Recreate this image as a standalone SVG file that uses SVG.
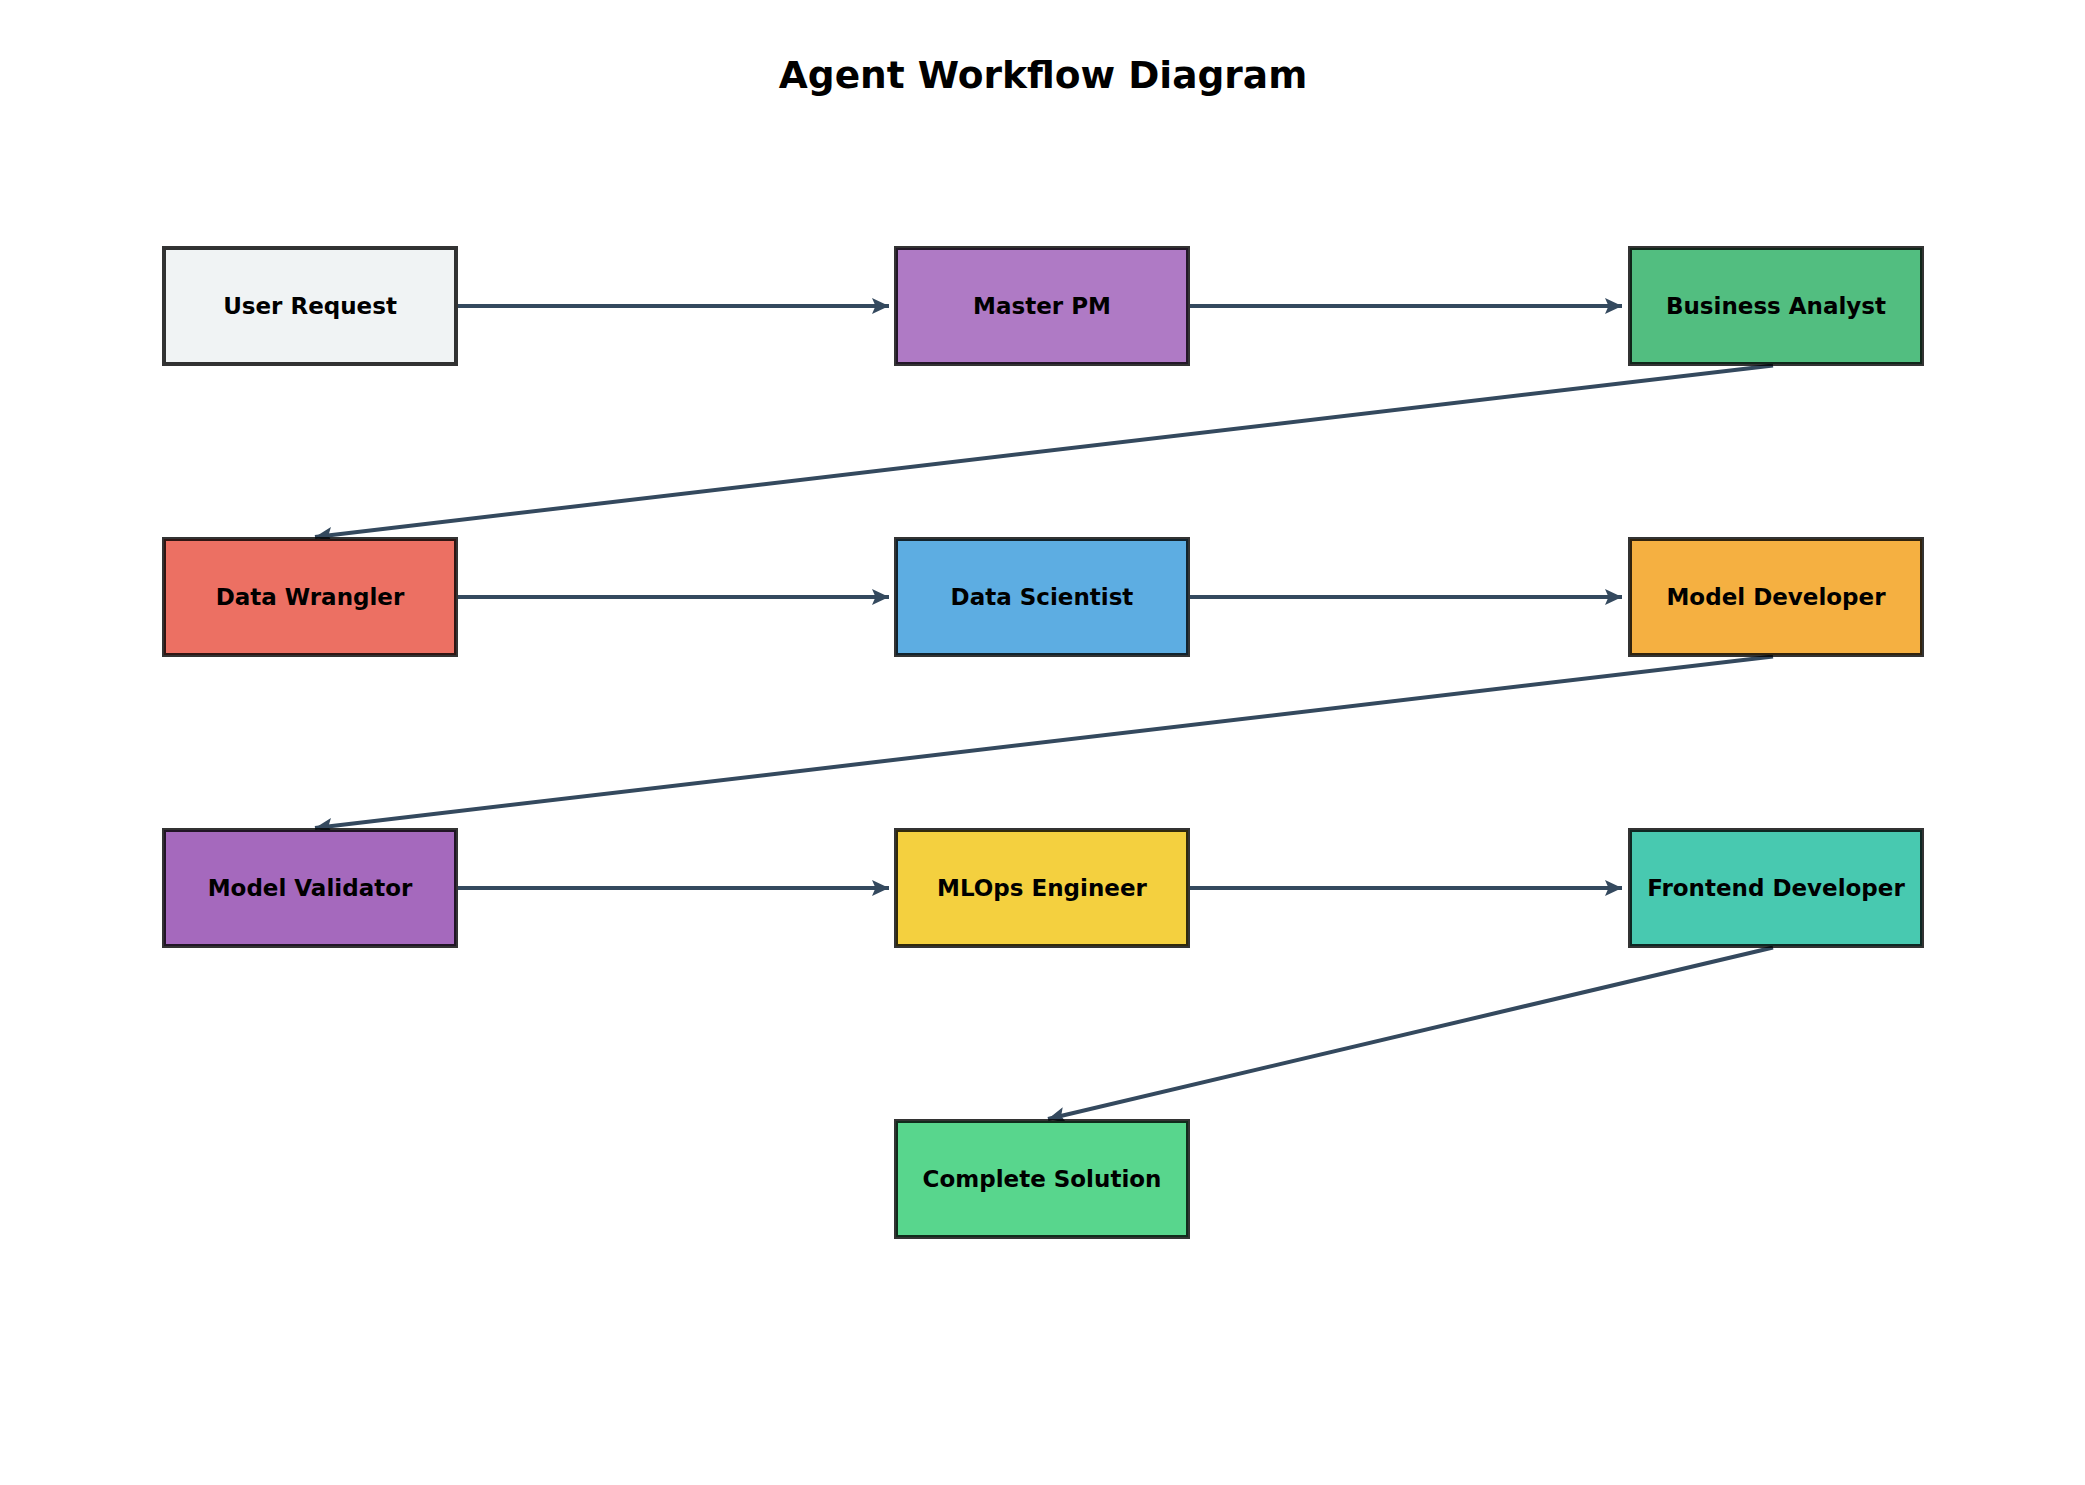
<svg xmlns="http://www.w3.org/2000/svg" width="2085" height="1485" viewBox="0 0 2085 1485">
<style>
.box{stroke:#000;stroke-opacity:0.8;stroke-width:4}
.lbl{font-family:"DejaVu Sans",sans-serif;font-weight:bold;font-size:23px;fill:#000;text-anchor:middle}
.title{font-family:"DejaVu Sans",sans-serif;font-weight:bold;font-size:37.5px;fill:#000;text-anchor:middle}
.edge{stroke:#34495e;stroke-width:4;fill:none;marker-end:url(#ah)}
</style>
<defs>
<marker id="ah" markerUnits="userSpaceOnUse" markerWidth="20" markerHeight="18" refX="17" refY="8" orient="auto">
<path d="M0,0 L17,8 L0,16 L3.5,8 z" fill="#34495e"/>
</marker>
</defs>
<rect width="2085" height="1485" fill="#fff"/>
<text class="title" x="1043" y="88">Agent Workflow Diagram</text>
<g id="connectors">
<line class="edge" x1="458" y1="306" x2="889" y2="306"/>
<line class="edge" x1="1190" y1="306" x2="1622" y2="306"/>
<line class="edge" x1="1773" y1="365.5" x2="315" y2="537"/>
<line class="edge" x1="458" y1="597" x2="889" y2="597"/>
<line class="edge" x1="1190" y1="597" x2="1622" y2="597"/>
<line class="edge" x1="1773" y1="656.5" x2="315" y2="828"/>
<line class="edge" x1="458" y1="888" x2="889" y2="888"/>
<line class="edge" x1="1190" y1="888" x2="1622" y2="888"/>
<line class="edge" x1="1773" y1="947.5" x2="1048" y2="1119"/>
</g>
<g id="user-request"><rect class="box" x="164" y="248" width="292" height="116" fill="#f0f3f4"/><text class="lbl" x="310" y="314">User Request</text></g>
<g id="master-pm"><rect class="box" x="896" y="248" width="292" height="116" fill="#af7ac5"/><text class="lbl" x="1042" y="314">Master PM</text></g>
<g id="business-analyst"><rect class="box" x="1630" y="248" width="292" height="116" fill="#52be80"/><text class="lbl" x="1776" y="314">Business Analyst</text></g>
<g id="data-wrangler"><rect class="box" x="164" y="539" width="292" height="116" fill="#ec7063"/><text class="lbl" x="310" y="605">Data Wrangler</text></g>
<g id="data-scientist"><rect class="box" x="896" y="539" width="292" height="116" fill="#5dade2"/><text class="lbl" x="1042" y="605">Data Scientist</text></g>
<g id="model-developer"><rect class="box" x="1630" y="539" width="292" height="116" fill="#f5b041"/><text class="lbl" x="1776" y="605">Model Developer</text></g>
<g id="model-validator"><rect class="box" x="164" y="830" width="292" height="116" fill="#a569bd"/><text class="lbl" x="310" y="896">Model Validator</text></g>
<g id="mlops-engineer"><rect class="box" x="896" y="830" width="292" height="116" fill="#f4d03f"/><text class="lbl" x="1042" y="896">MLOps Engineer</text></g>
<g id="frontend-developer"><rect class="box" x="1630" y="830" width="292" height="116" fill="#48c9b0"/><text class="lbl" x="1776" y="896">Frontend Developer</text></g>
<g id="complete-solution"><rect class="box" x="896" y="1121" width="292" height="116" fill="#58d68d"/><text class="lbl" x="1042" y="1187">Complete Solution</text></g>
</svg>
